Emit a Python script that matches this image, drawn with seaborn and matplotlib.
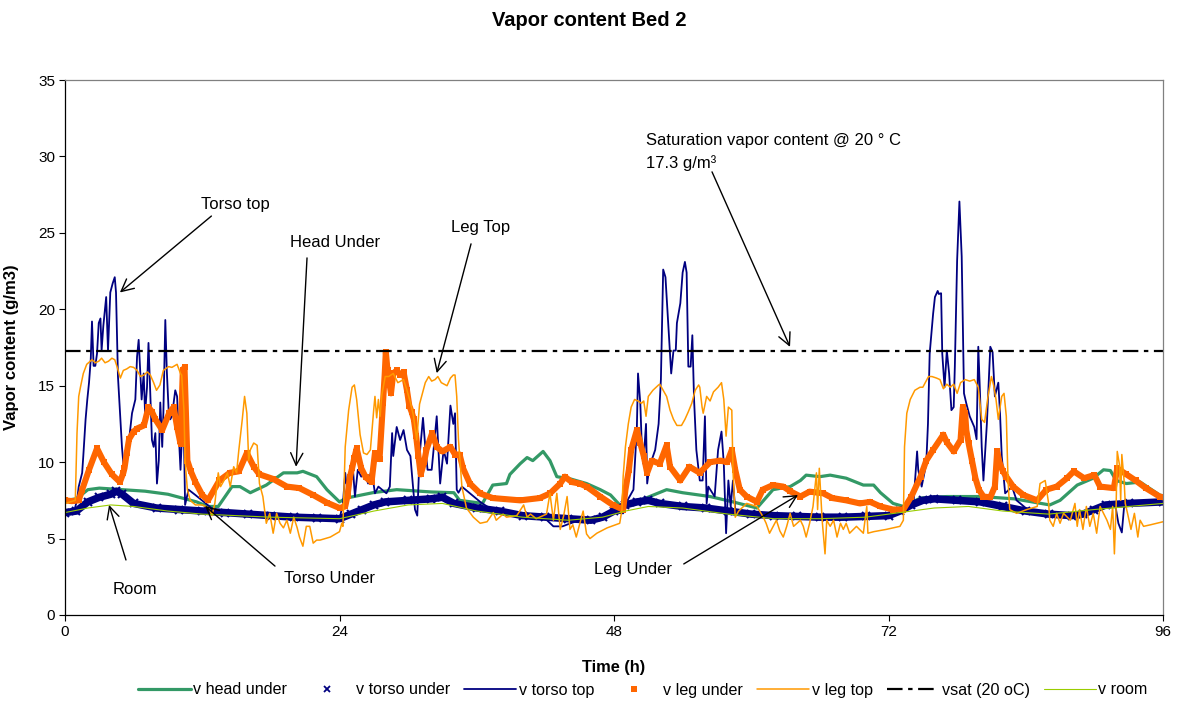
import matplotlib
matplotlib.use("Agg")
import matplotlib.pyplot as plt
import pandas as pd
import seaborn as sns
from matplotlib.lines import Line2D

# ---- measured vapour content, (time h, g/m3) ----
head_under = [
    (0, 7.5), (1, 7.6), (2, 8.2), (3, 8.3), (5, 8.2), (7, 8.1), (9, 7.9), (10, 7.7),
    (11.5, 7.4), (12.5, 7.1), (13.4, 7.1), (14.6, 8.4), (15.3, 8.4), (16.2, 8.0),
    (17.6, 8.5), (19.1, 9.3), (20.3, 9.3), (20.8, 9.4), (22, 9.05), (22.9, 8.2),
    (24, 7.4), (24.6, 7.65), (26.9, 8.0), (29, 8.2), (32, 8.05), (34, 8.0),
    (34.5, 7.5), (36.5, 7.3), (37.4, 8.5), (38.6, 8.6), (38.9, 9.2), (39.8, 9.9),
    (40.4, 10.3), (40.9, 10.1), (41.8, 10.7), (42.4, 10.1), (43, 9.05), (44.2, 8.9),
    (45.6, 8.6), (46.8, 8.2), (47.7, 7.85), (48.5, 7.2), (50.3, 7.5), (52.6, 8.2),
    (54, 8.0), (56.4, 7.75), (58.4, 7.4), (60.5, 7.0), (61.9, 8.2), (63.4, 8.4),
    (64.3, 8.8), (64.8, 9.15), (66, 9.05), (66.9, 9.15), (68.3, 8.95), (69.8, 8.5),
    (70.7, 8.5), (71.3, 8.0), (72.4, 7.3), (73.3, 7.1), (74.8, 7.65), (77.1, 7.75),
    (80, 7.75), (83, 7.6), (86.1, 7.2), (87, 7.5), (88.5, 8.5), (89.9, 8.95),
    (90.8, 9.5), (91.4, 9.45), (91.9, 8.8), (92.8, 8.6), (94, 8.7), (95.7, 7.85),
    (96, 7.8),
]

torso_under = [
    (0, 6.7), (1, 6.8), (2, 7.4), (3, 7.7), (4, 7.9), (4.5, 8.1), (5, 7.9), (6, 7.3),
    (8, 7.0), (10, 6.9), (12, 6.8), (14, 6.7), (16, 6.6), (18, 6.5), (20, 6.4),
    (22, 6.35), (24, 6.3), (25, 6.6), (26, 6.9), (27, 7.2), (28, 7.4), (30, 7.5),
    (32, 7.6), (33, 7.7), (34, 7.3), (36, 7.0), (38, 6.8), (40, 6.5), (42, 6.4),
    (44, 6.3), (46, 6.2), (47, 6.4), (48, 6.8), (49, 7.2), (50, 7.4), (51, 7.5),
    (52, 7.3), (54, 7.1), (56, 7.0), (58, 6.8), (60, 6.6), (62, 6.5), (64, 6.45),
    (66, 6.4), (68, 6.4), (70, 6.45), (72, 6.5), (73, 6.8), (74, 7.2), (75, 7.5),
    (76, 7.6), (78, 7.5), (80, 7.4), (82, 7.1), (84, 6.8), (86, 6.6), (88, 6.5),
    (89, 6.6), (90, 6.9), (91, 7.2), (93, 7.3), (96, 7.4),
]

torso_top = [
    (0, 6.7), (0.8, 6.8), (1.05, 7.5), (1.2, 8.4), (1.5, 9.3), (1.6, 10.4), (1.8, 12.8),
    (1.95, 14.1), (2.1, 15.2), (2.25, 16.7), (2.36, 19.2), (2.5, 16.3), (2.65, 16.3),
    (2.8, 17.1), (2.95, 19.1), (3.1, 19.4), (3.2, 17.3), (3.35, 18.9), (3.6, 20.8),
    (3.76, 17.3), (3.96, 21.1), (4.17, 21.7), (4.35, 22.1), (4.46, 21.1), (4.63, 15.6),
    (4.84, 12.8), (4.98, 11.0), (5.1, 9.9), (5.3, 10.1), (5.6, 11.45), (5.86, 13.2),
    (6.15, 14.1), (6.3, 16.9), (6.44, 18.0), (6.6, 15.6), (6.7, 14.1), (6.88, 15.8),
    (7.0, 13.2), (7.17, 14.9), (7.3, 17.8), (7.46, 14.5), (7.6, 11.45), (7.75, 11.0),
    (7.9, 11.9), (8.04, 8.6), (8.2, 10.1), (8.33, 13.9), (8.5, 11.0), (8.6, 13.2),
    (8.77, 19.3), (8.9, 16.0), (9.06, 13.4), (9.2, 12.8), (9.35, 13.0), (9.64, 14.7),
    (9.8, 14.3), (9.94, 11.9), (10.1, 9.5), (10.2, 11.25), (10.4, 11.6), (10.5, 7.2),
    (10.8, 8.2), (11.4, 7.85), (12.3, 7.3), (12.8, 7.0), (14, 6.7), (16, 6.55),
    (18, 6.45), (20, 6.35), (22, 6.3), (24, 6.25), (24.3, 7.3), (24.5, 9.3), (24.6, 8.6),
    (24.9, 9.05), (25.2, 9.3), (25.35, 7.75), (25.6, 9.5), (25.9, 9.05), (26.2, 9.3),
    (26.5, 8.6), (26.8, 9.5), (27.1, 7.96), (27.4, 8.4), (28.1, 7.96), (28.4, 8.4),
    (28.6, 11.9), (28.7, 10.4), (29.0, 12.3), (29.3, 11.45), (29.6, 12.1), (29.9, 10.8),
    (30.2, 10.4), (30.3, 9.5), (30.6, 6.9), (30.8, 6.5), (31.0, 10.4), (31.3, 12.9),
    (31.5, 11.0), (31.7, 9.5), (32.06, 9.5), (32.5, 13.0), (32.8, 8.6), (33.1, 10.8),
    (33.4, 9.9), (33.7, 13.7), (33.95, 12.5), (34.1, 13.2), (34.25, 8.2), (34.4, 8.0),
    (34.7, 8.4), (35.4, 7.96), (36.3, 7.4), (36.9, 7.1), (38, 6.8), (40, 6.5), (42, 6.3),
    (42.7, 5.8), (43.5, 5.8), (44.2, 6.0), (45, 6.2), (46, 6.2), (47, 6.4), (48, 6.7),
    (48.8, 6.65), (49.1, 7.4), (49.7, 8.2), (50.0, 12.3), (50.1, 15.8), (50.3, 13.85),
    (50.4, 11.7), (50.56, 9.9), (50.8, 12.5), (50.9, 8.6), (51.1, 9.7), (51.6, 10.8),
    (51.9, 12.5), (52.1, 15.4), (52.3, 22.6), (52.5, 22.1), (52.75, 18.9), (53.0, 15.8),
    (53.2, 17.3), (53.4, 17.3), (53.5, 19.1), (53.8, 20.4), (54.0, 22.4), (54.2, 23.1),
    (54.35, 22.4), (54.5, 16.25), (54.7, 16.25), (54.85, 18.3), (55.0, 14.1),
    (55.2, 10.8), (55.5, 8.8), (55.75, 8.8), (55.95, 13.0), (56.1, 7.3), (56.25, 8.4),
    (56.5, 8.1), (56.8, 7.75), (57.1, 10.8), (57.4, 12.0), (57.6, 9.9), (57.8, 5.35),
    (58.0, 8.8), (58.2, 7.1), (58.4, 8.8), (58.6, 6.9), (59.0, 6.8), (60, 6.6),
    (62, 6.45), (64, 6.4), (66, 6.35), (68, 6.35), (70, 6.4), (72, 6.45), (73.3, 6.9),
    (74.2, 7.5), (74.5, 10.7), (74.6, 9.5), (74.9, 8.4), (75.3, 9.9), (75.45, 12.5),
    (75.6, 17.1), (75.9, 19.7), (76.06, 20.8), (76.3, 21.2), (76.4, 21.0), (76.6, 21.05),
    (76.7, 17.1), (76.9, 14.9), (77.1, 17.3), (77.3, 15.8), (77.5, 13.4), (77.7, 13.6),
    (77.8, 16.25), (78.0, 23.2), (78.2, 27.05), (78.4, 23.45), (78.6, 14.5),
    (78.8, 13.85), (79.1, 13.0), (79.5, 12.3), (79.7, 11.5), (79.85, 17.55), (80.0, 14.5),
    (80.15, 11.0), (80.3, 8.8), (80.6, 12.5), (80.9, 17.55), (81.1, 17.2), (81.3, 14.3),
    (81.6, 15.2), (81.75, 13.2), (81.9, 10.4), (82.2, 7.96), (82.8, 8.4), (83.2, 7.5),
    (84, 7.0), (86, 6.6), (88, 6.5), (90, 6.8), (91, 7.1), (91.8, 7.3), (92.1, 6.0),
    (92.4, 5.4), (92.6, 7.1), (93, 7.3), (96, 7.4),
]

leg_under = [
    (0, 7.5), (0.6, 7.45), (1.2, 7.5), (1.5, 8.2), (2.1, 9.5), (2.8, 10.9), (3.4, 10.0),
    (4.1, 9.2), (4.8, 8.7), (5.1, 9.3), (5.2, 9.6), (5.4, 10.6), (5.6, 11.5), (6.0, 12.0),
    (6.3, 12.2), (6.9, 12.4), (7.3, 13.6), (7.6, 13.3), (7.9, 12.8), (8.5, 12.1),
    (9.1, 13.2), (9.5, 13.6), (9.8, 12.3), (10.1, 11.2), (10.3, 16.0), (10.45, 16.2),
    (10.6, 12.5), (10.7, 10.1), (11.0, 9.4), (11.4, 8.7), (12.0, 7.85), (12.5, 7.5),
    (13.5, 8.8), (14.4, 9.3), (15.2, 9.4), (15.9, 10.6), (16.5, 9.7), (17.0, 9.2),
    (18.2, 8.9), (19.4, 8.4), (20.5, 8.3), (21.7, 7.85), (22.9, 7.35), (24.0, 7.0),
    (24.5, 7.1), (24.7, 7.8), (24.9, 9.0), (25.1, 9.6), (25.3, 10.3), (25.5, 10.9),
    (25.9, 9.6), (26.3, 9.0), (26.8, 8.7), (27.1, 10.6), (27.5, 10.2), (27.8, 13.9),
    (27.95, 15.7), (28.05, 17.2), (28.2, 16.0), (28.5, 14.5), (28.7, 15.8), (29.0, 16.0),
    (29.3, 15.7), (29.6, 15.9), (29.9, 14.7), (30.1, 13.7), (30.3, 13.3), (30.5, 12.8),
    (30.7, 11.7), (30.9, 10.4), (31.1, 9.2), (31.4, 10.0), (31.6, 10.8), (32.1, 11.9),
    (32.5, 11.0), (33.0, 10.7), (33.7, 11.0), (34.1, 10.5), (34.5, 10.5), (34.8, 9.6),
    (35.4, 8.6), (36.3, 7.95), (37.4, 7.65), (39.8, 7.5), (41.5, 7.65), (42.4, 7.95),
    (43.3, 8.6), (43.7, 9.05), (44.3, 8.7), (45.0, 8.6), (45.6, 8.4), (46.8, 7.75),
    (47.9, 7.2), (48.8, 6.9), (49.0, 8.2), (49.3, 9.5), (49.5, 10.8), (50.0, 12.1),
    (50.3, 11.25), (50.6, 10.4), (50.9, 9.3), (51.3, 10.1), (52.0, 9.9), (52.6, 11.1),
    (52.9, 9.7), (53.8, 8.8), (54.6, 9.7), (55.5, 9.3), (56.4, 10.0), (57.3, 10.1),
    (57.9, 10.0), (58.3, 10.8), (58.6, 9.5), (59.0, 8.2), (59.6, 7.75), (60.5, 7.4),
    (61.0, 8.2), (61.9, 8.5), (62.8, 8.4), (63.4, 8.1), (64.3, 7.75), (65.1, 8.07),
    (66.3, 7.96), (67.1, 7.65), (68.3, 7.5), (69.5, 7.3), (70.4, 7.4), (71.3, 7.1),
    (72.4, 6.9), (73.3, 6.9), (74.0, 7.75), (74.8, 9.05), (75.3, 10.1), (75.9, 10.8),
    (76.8, 11.8), (77.1, 11.3), (77.7, 10.7), (78.3, 11.45), (78.5, 13.6), (78.7, 13.2),
    (78.8, 12.1), (79.0, 11.25), (79.3, 10.1), (79.6, 8.95), (79.9, 8.2), (80.3, 7.75),
    (80.9, 7.7), (81.3, 8.4), (81.5, 10.7), (81.7, 10.0), (82.0, 9.4), (82.3, 9.05),
    (82.9, 8.4), (83.8, 7.85), (85.0, 7.5), (85.8, 8.2), (86.7, 8.4), (87.6, 8.95),
    (88.2, 9.4), (89.1, 8.95), (90.0, 9.16), (90.5, 8.4), (91.7, 8.3), (92.0, 9.6),
    (92.8, 9.2), (93.6, 8.8), (94.5, 8.3), (95.7, 7.75), (96, 7.7),
]

leg_top = [
    (0, 7.3), (0.9, 7.5), (1.05, 11.9), (1.2, 14.3), (1.35, 14.9), (1.6, 15.8), (1.9, 16.4),
    (2.36, 16.7), (2.65, 16.5), (2.95, 16.6), (3.2, 16.8), (3.5, 16.5), (3.8, 16.6),
    (4.1, 16.8), (4.35, 16.7), (4.55, 16.25), (4.84, 15.5), (5.1, 16.0), (5.4, 16.1),
    (5.7, 16.25), (6.0, 16.2), (6.3, 16.0), (6.6, 15.6), (6.9, 15.7), (7.2, 15.9),
    (7.46, 15.7), (7.75, 15.2), (8.0, 14.7), (8.3, 15.05), (8.6, 16.0), (9.06, 16.25),
    (9.35, 16.2), (9.8, 16.4), (10.1, 15.8), (10.2, 15.7), (10.4, 13.4), (10.5, 10.1),
    (10.7, 8.2), (10.95, 7.5), (11.4, 7.2), (12.0, 7.2), (12.6, 7.0), (12.85, 6.5),
    (13.1, 7.3), (13.4, 9.3), (13.6, 8.4), (13.9, 8.8), (14.2, 9.3), (14.45, 8.4),
    (14.75, 9.7), (15.0, 9.3), (15.2, 10.8), (15.5, 12.8), (15.7, 14.3), (15.9, 13.2),
    (16.06, 10.1), (16.2, 10.8), (16.5, 11.25), (16.8, 11.1), (17.0, 8.6), (17.3, 7.75),
    (17.6, 6.0), (17.9, 6.65), (18.2, 5.35), (18.5, 6.65), (18.8, 6.0), (19.1, 5.7),
    (19.4, 6.2), (19.7, 5.35), (20.0, 6.4), (20.3, 5.7), (20.5, 5.1), (20.8, 4.5),
    (21.1, 5.8), (21.4, 5.8), (21.7, 4.7), (22.0, 4.9), (22.3, 4.9), (23.2, 5.1),
    (24.0, 5.45), (24.2, 6.0), (24.3, 5.8), (24.5, 11.0), (24.8, 13.4), (25.1, 14.9),
    (25.3, 15.05), (25.5, 14.1), (25.8, 11.8), (26.1, 10.6), (26.4, 10.5), (26.7, 10.8),
    (27.0, 13.5), (27.1, 14.3), (27.25, 12.9), (27.4, 14.1), (27.55, 13.0), (27.7, 14.4),
    (28.0, 15.6), (28.3, 15.6), (28.7, 15.8), (29.1, 15.2), (29.6, 15.4), (29.9, 14.7),
    (30.2, 13.9), (30.45, 13.1), (30.75, 11.45), (31.0, 13.8), (31.5, 15.2), (31.8, 15.6),
    (32.06, 15.3), (32.35, 15.4), (32.6, 15.6), (32.9, 15.2), (33.4, 15.0), (33.7, 15.5),
    (33.95, 15.7), (34.1, 15.7), (34.25, 14.3), (34.4, 11.5), (34.7, 8.4), (35.1, 7.0),
    (35.7, 6.4), (36.3, 6.0), (36.9, 6.1), (37.45, 6.7), (37.7, 6.2), (38.3, 6.6),
    (38.6, 6.4), (39.5, 6.5), (40.1, 7.2), (40.4, 6.4), (40.7, 6.6), (41.2, 6.3),
    (42.1, 6.6), (42.4, 7.96), (42.7, 6.2), (43.0, 7.96), (43.3, 5.6), (43.6, 6.5),
    (43.9, 7.75), (44.15, 5.6), (44.4, 5.9), (44.7, 5.1), (45.3, 6.8), (45.6, 5.3),
    (45.9, 5.0), (46.5, 5.35), (47.4, 5.7), (48.5, 6.0), (48.7, 6.9), (48.8, 9.05),
    (49.0, 11.0), (49.25, 12.5), (49.5, 13.6), (49.8, 14.1), (50.1, 14.0), (50.4, 13.85),
    (50.6, 14.0), (50.8, 13.0), (51.0, 14.3), (51.4, 14.7), (51.9, 15.05), (52.0, 15.1),
    (52.3, 14.7), (52.6, 14.3), (52.9, 13.4), (53.2, 12.8), (53.5, 12.4), (53.9, 12.4),
    (54.2, 12.8), (54.5, 13.3), (54.8, 13.85), (55.1, 14.7), (55.4, 15.05), (55.5, 14.9),
    (55.7, 13.6), (55.8, 13.2), (56.1, 14.3), (56.4, 14.0), (56.7, 14.6), (57.1, 14.9),
    (57.4, 15.2), (57.6, 14.1), (57.8, 11.7), (58.0, 13.6), (58.3, 13.4), (58.4, 9.5),
    (58.6, 6.4), (58.9, 6.8), (59.6, 7.3), (60.5, 7.1), (61.05, 6.4), (61.3, 6.0),
    (61.6, 5.35), (62.2, 6.2), (62.5, 5.5), (62.8, 5.1), (63.1, 5.8), (63.4, 6.65),
    (63.7, 5.8), (64.3, 6.2), (64.55, 5.8), (64.8, 5.1), (65.1, 6.0), (65.4, 7.1),
    (65.7, 9.3), (65.8, 6.9), (65.95, 9.6), (66.2, 6.2), (66.45, 4.0), (66.6, 6.2),
    (66.9, 5.8), (67.2, 6.2), (67.5, 5.1), (67.8, 6.0), (68.05, 5.6), (68.3, 6.0),
    (68.6, 5.35), (69.2, 5.8), (69.8, 5.35), (70.1, 7.1), (70.2, 5.35), (70.7, 5.45),
    (71.8, 5.6), (73.0, 5.8), (73.3, 6.2), (73.4, 11.0), (73.6, 13.2), (73.9, 14.1),
    (74.3, 14.7), (74.75, 14.9), (75.0, 14.9), (75.5, 15.6), (75.8, 15.6), (76.2, 15.5),
    (76.5, 15.4), (76.8, 14.8), (77.1, 15.1), (77.4, 14.9), (77.7, 15.1), (78.0, 14.5),
    (78.3, 15.2), (78.7, 15.4), (79.1, 15.3), (79.5, 15.4), (79.85, 14.9), (80.15, 12.8),
    (80.4, 12.6), (80.7, 14.3), (81.0, 15.6), (81.2, 15.0), (81.4, 14.1), (81.6, 12.8),
    (81.9, 14.3), (82.1, 14.5), (82.3, 13.0), (82.45, 8.8), (82.6, 6.9), (83.2, 6.65),
    (84.1, 6.9), (85.0, 7.1), (85.25, 8.6), (85.7, 8.8), (86.0, 7.3), (86.1, 6.2),
    (86.4, 5.8), (86.7, 6.65), (87.0, 6.0), (87.3, 6.65), (87.9, 6.2), (88.3, 7.3),
    (88.5, 5.8), (88.7, 6.9), (89.0, 5.6), (89.3, 7.1), (89.6, 5.8), (89.9, 6.65),
    (90.2, 5.35), (90.5, 7.1), (91.1, 6.2), (91.4, 5.6), (91.6, 7.1), (91.75, 4.0),
    (91.9, 7.1), (92.0, 10.7), (92.2, 9.8), (92.3, 7.5), (92.4, 10.5), (92.6, 8.8),
    (92.7, 7.3), (92.9, 6.65), (93.2, 5.6), (93.5, 6.65), (93.8, 5.1), (94.0, 6.2),
    (94.3, 5.8), (94.9, 5.9), (96, 6.1),
]

vsat = [(0, 17.3), (96, 17.3)]

room = [
    (0, 6.7), (2, 7.0), (4, 7.2), (6, 7.1), (9, 6.8), (12, 6.6), (18, 6.4), (24, 6.3),
    (27, 6.8), (30, 7.2), (33, 7.3), (36, 6.8), (40, 6.4), (44, 6.2), (47, 6.4),
    (49, 6.8), (51, 7.1), (54, 7.0), (58, 6.6), (62, 6.3), (66, 6.3), (70, 6.4),
    (73, 6.7), (76, 7.0), (79, 7.1), (82, 6.8), (86, 6.6), (90, 6.9), (96, 7.3),
]

GREEN = "#339966"
NAVY = "#000080"
ORANGE = "#FF6600"
LIGHT_ORANGE = "#FF9900"
YELLOW_GREEN = "#99CC00"

# label, points, line kwargs (drawing order = legend order)
series = [
    ("v head under", head_under, dict(color=GREEN, linewidth=2.3)),
    ("v torso under", torso_under, dict(color=NAVY, linewidth=5.4, marker="x",
                                         markersize=5.5, markeredgewidth=1.5,
                                         markeredgecolor=NAVY)),
    ("v torso top", torso_top, dict(color=NAVY, linewidth=1.3)),
    ("v leg under", leg_under, dict(color=ORANGE, linewidth=4.4, marker="s",
                                     markersize=4.4, markeredgewidth=0,
                                     markeredgecolor=ORANGE)),
    ("v leg top", leg_top, dict(color=LIGHT_ORANGE, linewidth=1.1)),
    ("vsat (20 oC)", vsat, dict(color="black", linewidth=1.6,
                                 linestyle=(0, (7, 2.5, 2, 2.5)))),
    ("v room", room, dict(color=YELLOW_GREEN, linewidth=0.8)),
]

sns.set_theme(style="white")
plt.rcParams["font.family"] = ["Liberation Sans", "DejaVu Sans"]
plt.rcParams.update({"text.color": "black", "axes.labelcolor": "black",
                     "xtick.color": "black", "ytick.color": "black"})

fig = plt.figure(figsize=(11.78, 7.04), dpi=100)
ax = fig.add_axes([65 / 1178, 1 - 615 / 704, 1098 / 1178, 535 / 704])

for label, pts, kws in series:
    df = pd.DataFrame(pts, columns=["time", "vapor"])
    sns.lineplot(data=df, x="time", y="vapor", ax=ax, estimator=None, sort=False,
                 legend=False, **kws)

ax.set_xlim(0, 96)
ax.set_ylim(0, 35)
ax.set_xticks([0, 24, 48, 72, 96])
ax.set_yticks(range(0, 36, 5))
ax.tick_params(axis="both", direction="out", length=4, width=0.8, colors="black",
               labelsize=11, pad=3, left=True, bottom=True)
for side in ("left", "bottom"):
    ax.spines[side].set_color("black")
    ax.spines[side].set_linewidth(0.9)
for side in ("top", "right"):
    ax.spines[side].set_color("#808080")
    ax.spines[side].set_linewidth(0.9)

ax.set_xlabel("Time (h)", fontsize=11.8, fontweight="bold")
ax.set_ylabel("Vapor content (g/m3)", fontsize=12, fontweight="bold")
ax.xaxis.set_label_coords(0.5, -0.085)
ax.yaxis.set_label_coords(-0.042, 0.5)
fig.text(0.5, 1 - 20 / 704, "Vapor content Bed 2", ha="center", va="center",
         fontsize=14.5, fontweight="bold")

# callouts: (text, text position, arrow start, arrow tip)
callouts = [
    ("Torso top", (14.9, 26.83), (12.8, 26.1), (4.8, 21.1)),
    ("Head Under", (23.6, 24.35), (21.16, 23.36), (20.2, 9.7)),
    ("Leg Top", (36.3, 25.33), (35.5, 24.28), (32.5, 15.82)),
    ("Room", (6.1, 1.70), (5.33, 3.6), (3.85, 7.2)),
    ("Torso Under", (23.1, 2.42), (18.36, 3.2), (12.24, 7.13)),
    ("Leg Under", (49.7, 2.95), (54.1, 3.34), (64.09, 7.85)),
]
arrow_kw = dict(arrowstyle="->", color="black", lw=1.0, mutation_scale=22,
                shrinkA=0, shrinkB=0)
for text, tpos, start, tip in callouts:
    ax.text(*tpos, text, ha="center", va="center", fontsize=12)
    ax.annotate("", xy=tip, xytext=start, arrowprops=arrow_kw)

ax.text(50.8, 31.02, "Saturation vapor content @ 20 ° C", ha="left", va="center",
        fontsize=12)
ax.text(50.8, 29.58, "17.3 g/m³", ha="left", va="center", fontsize=12)
ax.annotate("", xy=(63.39, 17.54), xytext=(56.57, 28.99), arrowprops=arrow_kw)

# legend row under the axis title
handles = []
for label, pts, kws in series:
    if "marker" in kws:
        h = Line2D([], [], linestyle="none", marker=kws["marker"], color=kws["color"],
                   markeredgecolor=kws["color"], markersize=4.5,
                   markeredgewidth=1.3 if kws["marker"] == "x" else 0)
    else:
        h = Line2D([], [], color=kws["color"], linewidth=min(kws["linewidth"], 2.3),
                   linestyle=kws.get("linestyle", "-"))
    handles.append(h)
fig.legend(handles, [s[0] for s in series], loc="center", ncol=7, frameon=False,
           bbox_to_anchor=(643 / 1178, 1 - 690 / 704), fontsize=11.6,
           handlelength=3.25, handletextpad=0.15, columnspacing=0.87)

fig.savefig("out.png", dpi=100)
